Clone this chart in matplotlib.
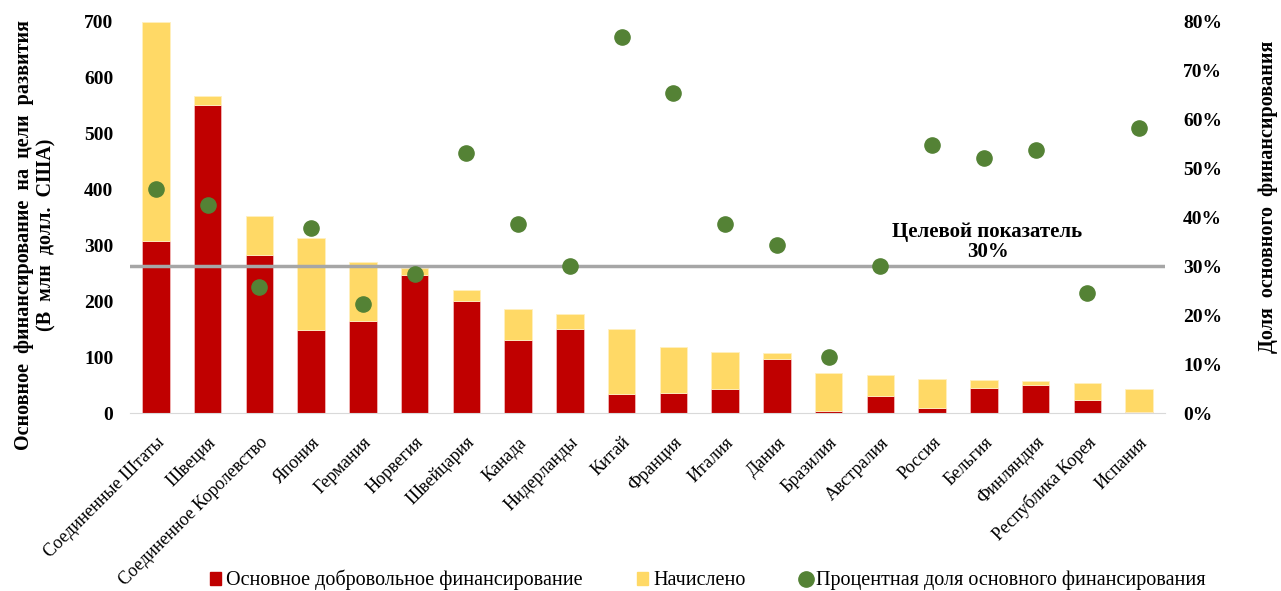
import numpy as np
import matplotlib.pyplot as plt
from matplotlib.lines import Line2D
from matplotlib.patches import Patch

plt.rcParams['font.family'] = ['Liberation Serif', 'DejaVu Serif']

countries = ['Соединенные Штаты', 'Швеция', 'Соединенное Королевство', 'Япония',
             'Германия', 'Норвегия', 'Швейцария', 'Канада', 'Нидерланды', 'Китай',
             'Франция', 'Италия', 'Дания', 'Бразилия', 'Австралия', 'Россия',
             'Бельгия', 'Финляндия', 'Республика Корея', 'Испания']
core = [308, 551, 283, 148, 165, 247, 200, 131, 151, 34,
        36, 44, 97, 4, 30, 9, 45, 50, 23, 2]
total = [700, 567, 353, 313, 270, 259, 220, 186, 177, 150,
         118, 109, 107, 72, 68, 61, 59, 57, 53, 44]
share = [0.458, 0.426, 0.258, 0.379, 0.224, 0.284, 0.532, 0.387, 0.301, 0.769,
         0.654, 0.387, 0.344, 0.115, 0.301, 0.548, 0.521, 0.539, 0.246, 0.583]
target = 0.30

red = '#C00000'
yellow = '#FFD966'
green = '#548235'

x = np.arange(len(countries))
accrued = np.array(total) - np.array(core)

fig = plt.figure(figsize=(12.81, 5.91), dpi=100)
ax = fig.add_axes([0.1015, 0.301, 0.808, 0.662])

ax.bar(x, core, width=0.53, color=red, edgecolor='#F2B8B8', linewidth=0.6, zorder=2)
ax.bar(x, accrued, width=0.53, bottom=core, color=yellow, edgecolor='#FFF0C0',
       linewidth=0.6, zorder=2)

ax.set_xlim(-0.5, len(countries) - 0.5)
ax.set_ylim(0, 700)
ax.set_yticks(np.arange(0, 701, 100))
ax.tick_params(axis='y', length=0, labelsize=14, pad=12)
for lbl in ax.get_yticklabels():
    lbl.set_fontweight('bold')
ax.set_xticks(x)
ax.set_xticklabels(countries, rotation=45, ha='right', rotation_mode='anchor',
                   fontsize=13)
ax.tick_params(axis='x', length=0, pad=15)
for s in ['top', 'right', 'left']:
    ax.spines[s].set_visible(False)
ax.spines['bottom'].set_color('#D9D9D9')

fig.text(35 / 1281, 1 - 235 / 591,
         'Основное  финансирование  на  цели  развития\n(В  млн  долл.  США)',
         rotation=90, ha='center', va='center', fontsize=14.5, fontweight='bold',
         linespacing=1.15, multialignment='center')

ax2 = ax.twinx()
ax2.set_ylim(0, 0.8)
ax2.set_yticks(np.arange(0, 0.81, 0.1))
ax2.set_yticklabels([f'{int(round(v * 100))}%' for v in np.arange(0, 0.81, 0.1)])
ax2.tick_params(axis='y', length=0, labelsize=14, pad=13)
for lbl in ax2.get_yticklabels():
    lbl.set_fontweight('bold')
for s in ['top', 'right', 'left', 'bottom']:
    ax2.spines[s].set_visible(False)
fig.text(1268 / 1281, 1 - 197 / 591, 'Доля  основного  финансирования',
         rotation=90, ha='center', va='center', fontsize=14.5, fontweight='bold')

ax2.axhline(target, color='#A6A6A6', linewidth=2.5, zorder=3)
ax2.scatter(x, share, s=120, color=green, zorder=4)
ax2.text(16.07, 0.31, 'Целевой показатель\n30%', ha='center', va='bottom',
         fontsize=15, fontweight='bold', linespacing=1.0)

handles = [Patch(color=red), Patch(color=yellow),
           Line2D([], [], marker='o', color=green, linestyle='none', markersize=11)]
fig.legend(handles, ['Основное добровольное финансирование', 'Начислено',
                     'Процентная доля основного финансирования'],
           loc='center', bbox_to_anchor=(708 / 1281, 1 - 580 / 591), ncol=3,
           frameon=False, fontsize=14.5, handlelength=0.55, handleheight=0.6,
           handletextpad=0.25, columnspacing=2.7, borderpad=0)

fig.savefig('out.png', dpi=100)
